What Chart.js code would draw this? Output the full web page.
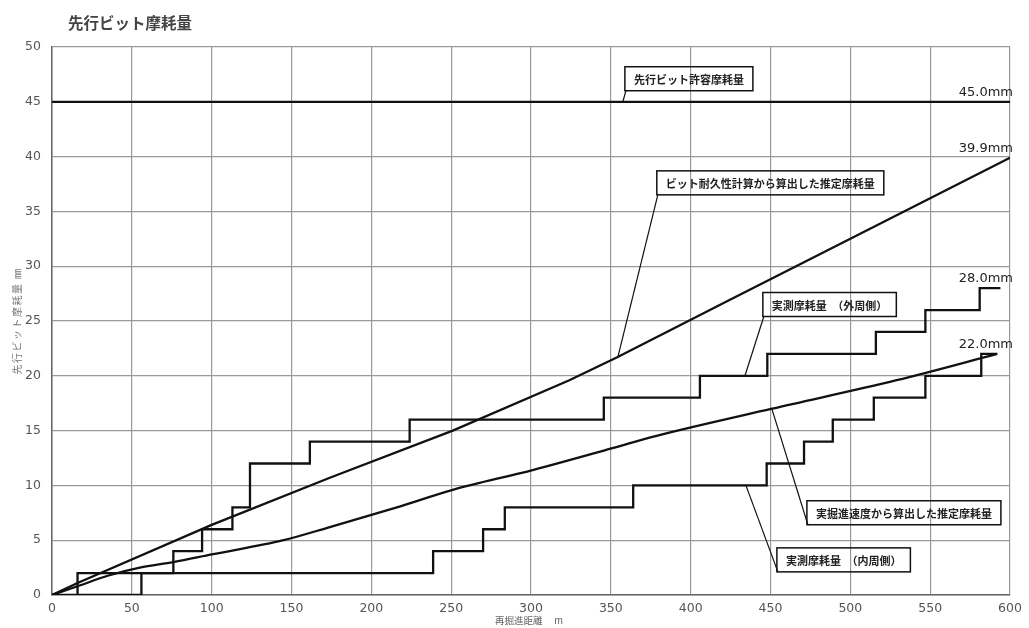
<!DOCTYPE html>
<html lang="ja">
<head>
<meta charset="UTF-8">
<title>先行ビット摩耗量</title>
<script src="https://cdn.jsdelivr.net/npm/chart.js"></script>
<style>
  body { margin: 0; background: #fff; }
</style>
</head>
<body>
<canvas id="wear" width="1029" height="628"></canvas>
<script>
// allowable wear (horizontal limit)
const allowX = [0, 600];
const allowY = [45, 45];

// estimated wear from bit durability calculation
const calcX = [0, 16, 100, 174, 251, 324, 354, 424, 500, 600];
const calcY = [0, 1.1, 6.4, 10.7, 15.0, 19.6, 21.7, 26.9, 32.5, 39.9];

// estimated wear from actual excavation speed
const speedX = [0, 16, 36, 55, 76, 100, 145, 174, 216, 251, 301, 351, 378, 451, 529, 592];
const speedY = [0, 0.8, 1.8, 2.5, 3.0, 3.7, 5.0, 6.2, 8.0, 9.6, 11.4, 13.4, 14.5, 17.0, 19.6, 22.0];

// measured wear, outer side (steps)
const outerX = [16, 16, 76, 94, 113, 124, 161.5, 224, 345.6, 405.8, 448, 516, 547, 581, 594];
const outerY = [0, 2, 4, 6, 8, 12, 14, 16, 18, 20, 22, 24, 26, 28, 28];

// measured wear, inner side (steps)
const innerX = [0, 56, 238.7, 270, 283.6, 364, 447.6, 471, 489, 514.7, 547, 582, 592];
const innerY = [0, 2, 4, 6, 8, 10, 12, 14, 16, 18, 20, 22, 22];

const xTicks = [0, 50, 100, 150, 200, 250, 300, 350, 400, 450, 500, 550, 600];
const yTicks = [0, 5, 10, 15, 20, 25, 30, 35, 40, 45, 50];

const endLabels = [
  { text: '45.0mm', y: 45 },
  { text: '39.9mm', y: 39.9 },
  { text: '28.0mm', y: 28.0 },
  { text: '22.0mm', y: 22.0 }
];

// callout boxes: top-left corner of box and the point the leader touches
const notes = [
  { text: '先行ビット許容摩耗量', x: 358.8, y: 48.2, tx: 357.5, ty: 45 },
  { text: 'ビット耐久性計算から算出した推定摩耗量', x: 378.8, y: 38.7, tx: 354.4, ty: 21.7 },
  { text: '実測摩耗量　（外周側）', x: 445.2, y: 27.6, tx: 434, ty: 20 },
  { text: '実掘進速度から算出した推定摩耗量', x: 472.8, y: 8.6, tx: 450.8, ty: 17.0 },
  { text: '実測摩耗量　（内周側）', x: 454, y: 4.3, tx: 434.6, ty: 10 }
];

function pts(xs, ys) {
  return xs.map((x, i) => ({ x: x, y: ys[i] }));
}

function line(xs, ys, extra) {
  return Object.assign({
    data: pts(xs, ys),
    borderColor: '#111',
    borderWidth: 2.3,
    pointRadius: 0,
    fill: false,
    tension: 0
  }, extra || {});
}

const cjk = '"Noto Sans CJK JP", "Noto Sans", sans-serif';

// title, axis titles, end values and callouts
const textPlugin = {
  id: 'texts',
  afterDatasetsDraw(chart) {
    const ctx = chart.ctx;
    const xs = chart.scales.x, ys = chart.scales.y;
    const area = chart.chartArea;
    ctx.save();

    // chart title
    ctx.fillStyle = '#444';
    ctx.font = 'bold 15.5px ' + cjk;
    ctx.textAlign = 'left';
    ctx.textBaseline = 'middle';
    ctx.fillText('先行ビット摩耗量', 68, 23);

    // x axis title
    ctx.fillStyle = '#666';
    ctx.font = '9.5px ' + cjk;
    ctx.textAlign = 'left';
    ctx.fillText('再掘進距離　 m', 495, 620);

    // y axis title
    ctx.save();
    ctx.translate(17, (area.top + area.bottom) / 2);
    ctx.rotate(-Math.PI / 2);
    ctx.textAlign = 'center';
    ctx.font = '10px ' + cjk;
    ctx.fillStyle = '#777';
    ctx.letterSpacing = '1.5px';
    ctx.fillText('先行ビット摩耗量 ㎜', 0, 0);
    ctx.restore();

    // end values
    ctx.fillStyle = '#222';
    ctx.font = '13px "DejaVu Sans", sans-serif';
    ctx.textAlign = 'right';
    ctx.textBaseline = 'alphabetic';
    endLabels.forEach(l => {
      ctx.fillText(l.text, area.right + 3, ys.getPixelForValue(l.y) - 6);
    });

    // callouts
    ctx.font = 'bold 11px ' + cjk;
    ctx.textAlign = 'left';
    ctx.textBaseline = 'middle';
    ctx.strokeStyle = '#111';
    notes.forEach(n => {
      const left = xs.getPixelForValue(n.x);
      const top = ys.getPixelForValue(n.y);
      const w = ctx.measureText(n.text).width + 18;
      const h = 24;
      ctx.lineWidth = 1.5;
      ctx.strokeRect(left, top, w, h);
      ctx.fillStyle = '#222';
      ctx.fillText(n.text, left + 9, top + h / 2 + 1);
      ctx.lineWidth = 1.2;
      ctx.beginPath();
      ctx.moveTo(left + 1, top + h);
      ctx.lineTo(xs.getPixelForValue(n.tx), ys.getPixelForValue(n.ty));
      ctx.stroke();
    });

    ctx.restore();
  }
};

new Chart(document.getElementById('wear'), {
  type: 'line',
  data: {
    datasets: [
      line(allowX, allowY),
      line(calcX, calcY),
      line(speedX, speedY, { cubicInterpolationMode: 'monotone' }),
      line(outerX, outerY, { stepped: true }),
      line(innerX, innerY, { stepped: true })
    ]
  },
  options: {
    responsive: false,
    animation: false,
    layout: { padding: { top: 47, right: 19, left: 0, bottom: 0 } },
    plugins: {
      legend: { display: false },
      tooltip: { enabled: false }
    },
    scales: {
      x: {
        type: 'linear',
        min: 0,
        max: 600,
        afterBuildTicks: s => { s.ticks = xTicks.map(v => ({ value: v })); },
        afterFit: s => { s.height = 33; },
        ticks: {
          padding: 6,
          color: '#555',
          font: { family: 'DejaVu Sans', size: 12.5 },
          maxRotation: 0
        },
        grid: { color: '#999', lineWidth: 1.2, drawTicks: false },
        border: { color: '#666', width: 1.5 }
      },
      y: {
        type: 'linear',
        min: 0,
        max: 50,
        afterBuildTicks: s => { s.ticks = yTicks.map(v => ({ value: v })); },
        afterFit: s => { s.width = 52; },
        ticks: {
          padding: 11,
          color: '#555',
          font: { family: 'DejaVu Sans', size: 12.5 }
        },
        grid: { color: '#999', lineWidth: 1.2, drawTicks: false },
        border: { color: '#666', width: 1.5 }
      }
    }
  },
  plugins: [textPlugin]
});
</script>
</body>
</html>
